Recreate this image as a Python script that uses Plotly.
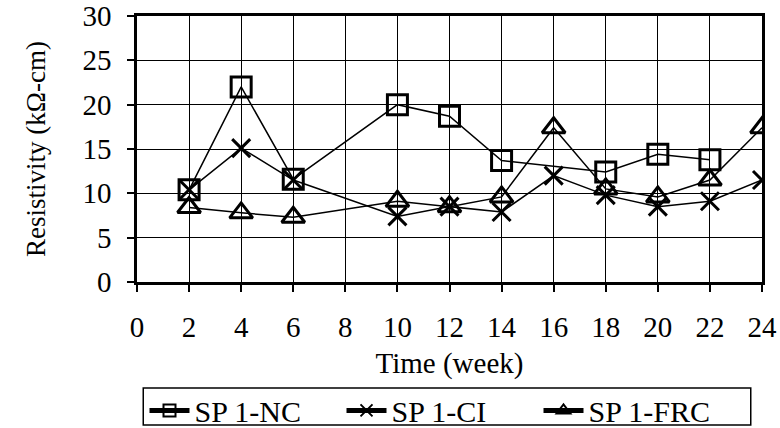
import plotly.graph_objects as go

weeks_nc = [2, 4, 6, 10, 12, 14, 18, 20, 22]
nc = [10.4, 22.0, 11.6, 20.0, 18.7, 13.7, 12.4, 14.4, 13.8]

weeks_ci = [2, 4, 6, 10, 12, 14, 16, 18, 20, 22, 24]
ci = [10.4, 15.1, 11.5, 7.4, 8.5, 7.9, 12.0, 9.8, 8.5, 9.1, 11.5]

weeks_frc = [2, 4, 6, 10, 12, 14, 16, 18, 20, 22, 24]
frc = [8.4, 7.8, 7.3, 9.1, 8.5, 9.6, 17.4, 10.5, 9.6, 11.5, 17.4]

FONT = "Times New Roman, Liberation Serif, serif"

fig = go.Figure()
fig.add_trace(go.Scatter(
    x=weeks_nc, y=nc, name="SP 1-NC", mode="lines+markers",
    line=dict(color="black", width=1.5),
    marker=dict(symbol="square-open", size=20, color="black", line=dict(width=3, color="black")),
))
fig.add_trace(go.Scatter(
    x=weeks_ci, y=ci, name="SP 1-CI", mode="lines+markers",
    line=dict(color="black", width=1.5),
    marker=dict(symbol="x-thin", size=18, color="black", line=dict(width=3, color="black")),
))
fig.add_trace(go.Scatter(
    x=weeks_frc, y=frc, name="SP 1-FRC", mode="lines+markers",
    line=dict(color="black", width=1.5),
    marker=dict(symbol="triangle-up-open", size=20, color="black", line=dict(width=3, color="black")),
))

# legend frame (decoration)
fig.add_shape(type="rect", xref="paper", yref="paper",
              x0=0.010, x1=0.982, y0=-0.5376, y1=-0.3985,
              line=dict(color="black", width=1.5), fillcolor="rgba(0,0,0,0)", layer="above")

fig.update_layout(
    width=780, height=428,
    margin=dict(l=137, r=18, t=16, b=146, autoexpand=False),
    paper_bgcolor="white", plot_bgcolor="white",
    font=dict(family=FONT, size=29, color="black"),
    showlegend=True,
    legend=dict(
        orientation="h", x=0.012, xanchor="left", y=-0.385, yanchor="top",
        borderwidth=0, bgcolor="rgba(0,0,0,0)", font=dict(size=30, family=FONT),
        itemwidth=40, tracegroupgap=0, itemsizing="constant",
        entrywidth=142, entrywidthmode="pixels",
    ),
    xaxis=dict(
        range=[0, 24], tickmode="linear", tick0=0, dtick=2,
        showgrid=True, gridcolor="black", gridwidth=1.3,
        showline=True, linecolor="black", linewidth=2.5, mirror=True,
        ticks="outside", ticklen=7, tickwidth=1.5, tickcolor="black",
        zeroline=False, automargin=False, ticklabeloverflow="allow",
        ticklabelstandoff=10,
        tickfont=dict(size=29, family=FONT),
        title=dict(text="Time (week)", font=dict(size=29, family=FONT), standoff=12),
    ),
    yaxis=dict(
        range=[0, 30], tickmode="linear", tick0=0, dtick=5,
        showgrid=True, gridcolor="black", gridwidth=1.3,
        showline=True, linecolor="black", linewidth=2.5, mirror=True,
        ticks="outside", ticklen=7, tickwidth=1.5, tickcolor="black",
        zeroline=False, automargin=False, ticklabelstandoff=10,
        ticklabeloverflow="allow",
        tickfont=dict(size=29, family=FONT),
        title=dict(text="Resistivity (kΩ-cm)", font=dict(size=27, family=FONT), standoff=30),
    ),
)

fig.write_html("out.html", config={"displayModeBar": False},
               post_script="document.body.style.margin='0';")
